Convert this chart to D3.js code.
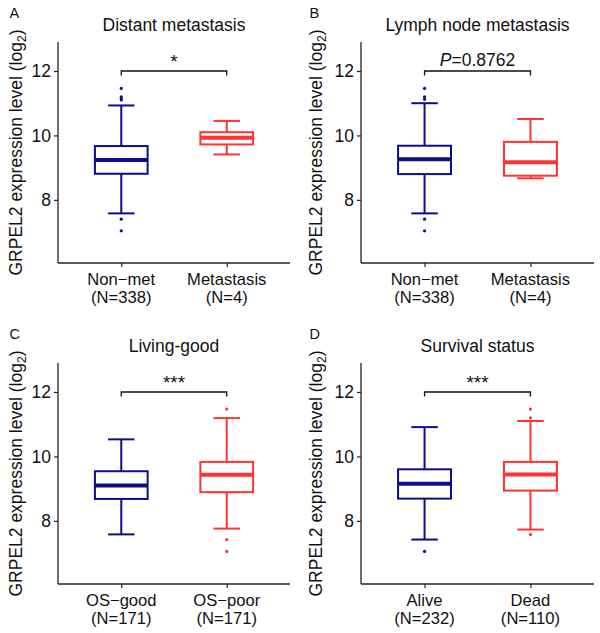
<!DOCTYPE html>
<html><head><meta charset="utf-8">
<script src="https://cdn.jsdelivr.net/npm/d3@7"></script>
<style>body{margin:0;background:#fff}svg{display:block}text{font-family:"Liberation Sans",Arial,sans-serif}</style>
</head><body>
<script>
// ---- data ----
const panelLetters = ["A", "B", "C", "D"];
const panelTitles = ["Distant metastasis", "Lymph node metastasis", "Living-good", "Survival status"];
const categoryNames = [["Non\u2212met", "Metastasis"], ["Non\u2212met", "Metastasis"], ["OS\u2212good", "OS\u2212poor"], ["Alive", "Dead"]];
const groupSizes = [["(N=338)", "(N=4)"], ["(N=338)", "(N=4)"], ["(N=171)", "(N=171)"], ["(N=232)", "(N=110)"]];
// box stats: [lower whisker, Q1, median, Q3, upper whisker]
const boxStatsA = [[7.58, 8.81, 9.24, 9.67, 10.93], [9.41, 9.72, 9.93, 10.10, 10.45]];
const boxStatsB = [[7.58, 8.80, 9.26, 9.68, 11.00], [8.67, 8.75, 9.17, 9.80, 10.51]];
const boxStatsC = [[7.58, 8.68, 9.10, 9.54, 10.53], [7.76, 8.89, 9.43, 9.83, 11.19]];
const boxStatsD = [[7.42, 8.69, 9.15, 9.60, 10.91], [7.73, 8.94, 9.44, 9.83, 11.10]];
const outliersA = [[11.46, 11.20, 11.15, 11.10, 7.40, 7.04], []];
const outliersB = [[11.46, 11.20, 11.12, 7.40, 7.04], []];
const outliersC = [[], [11.47, 7.42, 7.05]];
const outliersD = [[7.05], [11.47, 11.20, 7.58]];
const sigLabels = ["*", "P=0.8762", "***", "***"];
const bracketLevel = [12, 12, 12, 12];
const yTicks = [8, 10, 12];
const yDomain = [6.04, 12.9];
const groupColors = ["#0d0d8c", "#ff3333"];

const boxStats = [boxStatsA, boxStatsB, boxStatsC, boxStatsD];
const outliers = [outliersA, outliersB, outliersC, outliersD];

// ---- layout ----
const W = 600, H = 633;
const svg = d3.select("body").append("svg").attr("width", W).attr("height", H);
const origins = [[0, 0], [300, 0], [0, 321], [300, 321]];
const plotL = [58, 361, 58, 361];
const plotR = [290, 594, 290, 594];
const plotTop = 42, plotBot = 263;
const FS = 17.5, FSX = 16.6;

panelLetters.forEach((letter, i) => {
  const oy = origins[i][1];
  const ox = origins[i][0];
  const g = svg.append("g").attr("transform", `translate(0,${oy})`);
  const x = d3.scalePoint().domain(categoryNames[i]).range([plotL[i], plotR[i]]).padding(0.6);
  const y = d3.scaleLinear().domain(yDomain).range([plotBot, plotTop]);
  const unit = x.step();
  const bw = unit * 0.5, cw = unit * 0.25;

  // axes
  const yAxis = g.append("g").attr("transform", `translate(${plotL[i]},0)`)
    .call(d3.axisLeft(y).tickValues(yTicks).tickFormat(d3.format("d")).tickSize(4).tickPadding(3).tickSizeOuter(0));
  const xAxis = g.append("g").attr("transform", `translate(0,${plotBot})`)
    .call(d3.axisBottom(x).tickSize(4).tickSizeOuter(0).tickFormat(""));
  [yAxis, xAxis].forEach(a => {
    a.select(".domain").attr("stroke", "#222").attr("stroke-width", 1.3);
    a.selectAll(".tick line").attr("stroke", "#222").attr("stroke-width", 1.2);
    a.selectAll("text").attr("font-size", FS).attr("fill", "#111")
      .attr("font-family", "Liberation Sans, Arial, sans-serif");
  });
  xAxis.select(".domain").attr("d", `M${plotL[i]},0H${plotR[i]}`);
  yAxis.select(".domain").attr("d", `M0,${plotTop}V${plotBot}`);

  // x labels two lines
  categoryNames[i].forEach((c, j) => {
    g.append("text").attr("x", x(c)).attr("y", plotBot + 21.5).attr("text-anchor", "middle")
      .attr("font-size", FSX).attr("fill", "#111").text(c);
    g.append("text").attr("x", x(c)).attr("y", plotBot + 40.2).attr("text-anchor", "middle")
      .attr("font-size", FSX).attr("fill", "#111").text(groupSizes[i][j]);
  });

  // y title
  const yt = g.append("text")
    .attr("transform", `translate(${ox + 21.5},${(plotTop + plotBot) / 2}) rotate(-90)`)
    .attr("text-anchor", "middle").attr("font-size", FS).attr("fill", "#111");
  yt.append("tspan").text("GRPEL2 expression level (log");
  yt.append("tspan").attr("font-size", FS * 0.7).attr("dy", 4).text("2");
  yt.append("tspan").attr("dy", -4).text(")");

  // title
  g.append("text").attr("x", (plotL[i] + plotR[i]) / 2).attr("y", 31)
    .attr("text-anchor", "middle").attr("font-size", FS).attr("fill", "#111").text(panelTitles[i]);
  // panel letter
  g.append("text").attr("x", ox + 9.5).attr("y", 18).attr("font-size", 14.5).attr("fill", "#111").text(letter);

  // boxes
  categoryNames[i].forEach((c, j) => {
    const s = boxStats[i][j];
    const col = groupColors[j];
    const cx = x(c);
    const bg = g.append("g").attr("stroke", col).attr("fill", "none").attr("stroke-width", 2);
    bg.append("line").attr("x1", cx).attr("x2", cx).attr("y1", y(s[3])).attr("y2", y(s[4]));
    bg.append("line").attr("x1", cx).attr("x2", cx).attr("y1", y(s[1])).attr("y2", y(s[0]));
    bg.append("line").attr("x1", cx - cw / 2).attr("x2", cx + cw / 2).attr("y1", y(s[4])).attr("y2", y(s[4]));
    bg.append("line").attr("x1", cx - cw / 2).attr("x2", cx + cw / 2).attr("y1", y(s[0])).attr("y2", y(s[0]));
    bg.append("rect").attr("x", cx - bw / 2).attr("width", bw)
      .attr("y", y(s[3])).attr("height", y(s[1]) - y(s[3])).attr("fill", "#fff");
    bg.append("line").attr("x1", cx - bw / 2).attr("x2", cx + bw / 2)
      .attr("y1", y(s[2])).attr("y2", y(s[2])).attr("stroke-width", 4);
    g.selectAll(null).data(outliers[i][j]).enter().append("circle")
      .attr("cx", cx).attr("cy", d => y(d)).attr("r", 1.6).attr("fill", col);
  });

  // bracket
  const c0 = x(categoryNames[i][0]), c1 = x(categoryNames[i][1]);
  const by = y(bracketLevel[i]);
  g.append("path").attr("d", `M${c0},${by + 4.5}V${by}H${c1}V${by + 4.5}`)
    .attr("fill", "none").attr("stroke", "#111").attr("stroke-width", 1.3);
  const st = g.append("text").attr("x", (c0 + c1) / 2).attr("y", by - 4.5)
    .attr("text-anchor", "middle").attr("font-size", FS).attr("fill", "#111");
  const lab = sigLabels[i];
  if (lab.startsWith("P=")) {
    st.append("tspan").attr("font-style", "italic").text("P");
    st.append("tspan").text(lab.slice(1));
  } else {
    st.attr("y", by - 3).attr("font-size", 19).text(lab);
  }
});
</script>
</body></html>
